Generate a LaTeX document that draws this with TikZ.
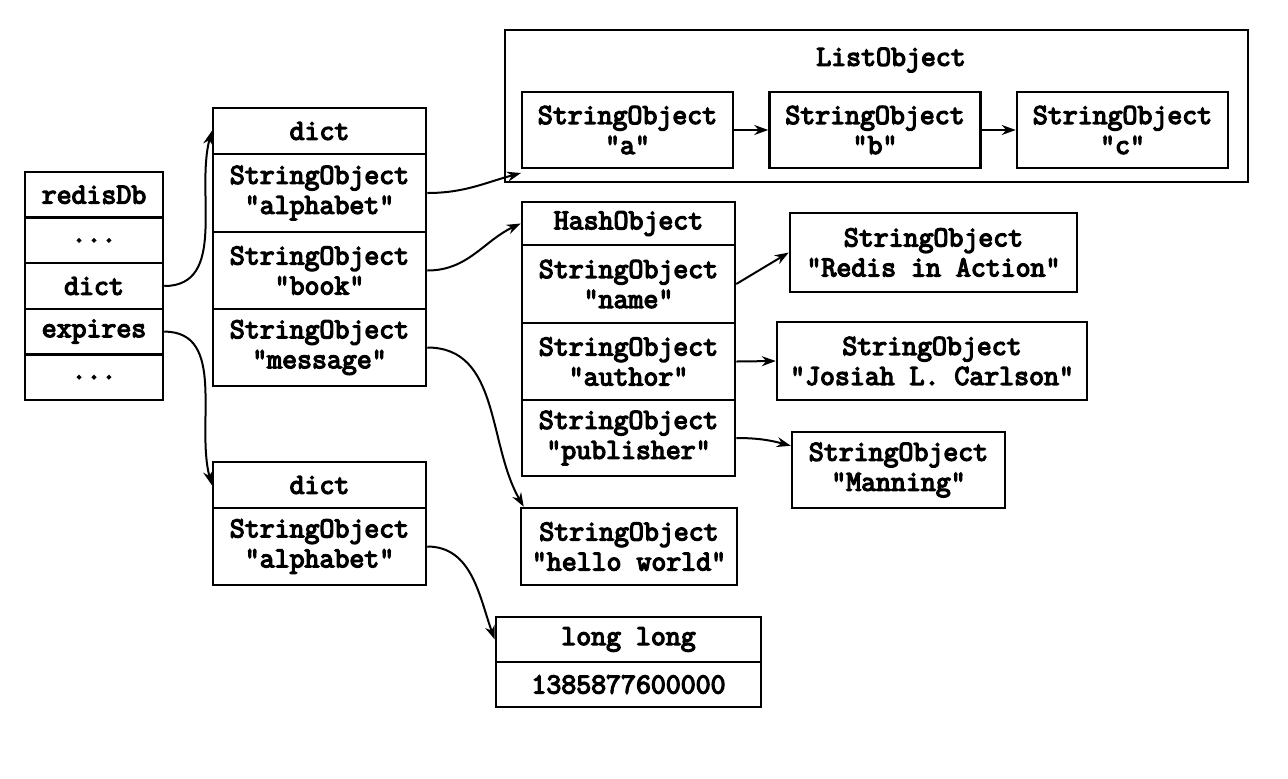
\documentclass[tikz,border=0pt]{standalone}
\usepackage{fontspec}
\setmonofont{Latin Modern Mono}[FakeBold=4.5]
\usetikzlibrary{arrows.meta}
\tikzset{
  cell/.style 2 args={draw, line width=1.25pt, inner sep=0pt, align=center,
    minimum width=#1*0.5pt, minimum height=#2*0.5pt,
    font=\ttfamily\fontsize{14.5}{15}\selectfont},
  tag/.style={inner sep=0pt, font=\ttfamily\fontsize{14.5}{15}\selectfont},
  link/.style={line width=1pt, -{Stealth[length=7pt,width=5pt]}}
}

\begin{document}
\begin{tikzpicture}[x=0.5pt, y=-0.5pt]
			%%%%% START %%%%%
			\useasboundingbox (0,0) rectangle (1288,778);
			
			% redisDb
			\node[cell={138}{45.6}] (rdb) at (94, 194.8) {redisDb};
			\node[cell={138}{45.6}] (rdotsa) at (94, 240.4) {...};
			\node[cell={138}{45.6}] (rdict) at (94, 286) {dict};
			\node[cell={138}{45.6}] (rexp) at (94, 331.6) {expires};
			\node[cell={138}{45.6}] (rdotsb) at (94, 377.2) {...};
			
			% dict
			\node[cell={213}{46}] (dah) at (319.5, 131) {dict};
			\node[cell={213}{78}] (daa) at (319.5, 193) {StringObject\\"alphabet"};
			\node[cell={213}{77}] (dab) at (319.5, 270.5) {StringObject\\"book"};
			\node[cell={213}{77}] (dam) at (319.5, 347.5) {StringObject\\"message"};
			
			% expires dict
			\node[cell={213}{46}] (dbh) at (319.5, 485) {dict};
			\node[cell={213}{77}] (dba) at (319.5, 546.5) {StringObject\\"alphabet"};
			
			% list
			\node[cell={743}{152}] (lo) at (876.5, 106) {};
			\node[tag] (lotitle) at (891, 60) {ListObject};
			\node[cell={211}{76}] (sa) at (627.5, 130) {StringObject\\"a"};
			\node[cell={211}{76}] (sb) at (875, 130) {StringObject\\"b"};
			\node[cell={211}{76}] (sc) at (1122.5, 130) {StringObject\\"c"};
			\coordinate (lotip) at (521, 173);
			
			% hash
			\node[cell={213}{43}] (hoh) at (628.5, 223.5) {HashObject};
			\node[cell={213}{78}] (hon) at (628.5, 284) {StringObject\\"name"};
			\node[cell={213}{77}] (hoa) at (628.5, 361.5) {StringObject\\"author"};
			\node[cell={213}{76}] (hop) at (628.5, 438) {StringObject\\"publisher"};
			\node[cell={287}{79}] (ria) at (933.5, 252.5) {StringObject\\"Redis in Action"};
			\node[cell={310}{78}] (jlc) at (932, 361) {StringObject\\"Josiah L. Carlson"};
			\node[cell={213}{76}] (man) at (898.5, 470) {StringObject\\"Manning"};
			
			\node[cell={216}{77}] (hw) at (629, 546.5) {StringObject\\"hello world"};
			
			% long long
			\node[cell={265}{45}] (llh) at (628.5, 639.5) {long long};
			\node[cell={265}{45}] (llv) at (628.5, 684.5) {1385877600000};
			
			% links
			\draw[link] (rdict.east) to[out=0, in=-105] (dah.west);
			\draw[link] (rexp.east) to[out=0, in=105] (dbh.west);
			\draw[link] (daa.east) to[out=0, in=195] (lotip);
			\draw[link] (dab.east) to[out=0, in=205] (hoh.west);
			\draw[link] (dam.east) to[out=0, in=120] ([xshift=2pt]hw.north west);
			\draw[link] (dba.east) to[out=0, in=110] (llh.west);
			\draw[link] (sa) -- (sb);
			\draw[link] (sb) -- (sc);
			\draw[link] (hon.east) -- (ria.west);
			\draw[link] (hoa.east) -- (jlc.west);
			\draw[link] (hop.east) to[out=0, in=165] ([yshift=-7.5pt]man.north west);
			
			%%%%% END %%%%%
\end{tikzpicture}
\end{document}
